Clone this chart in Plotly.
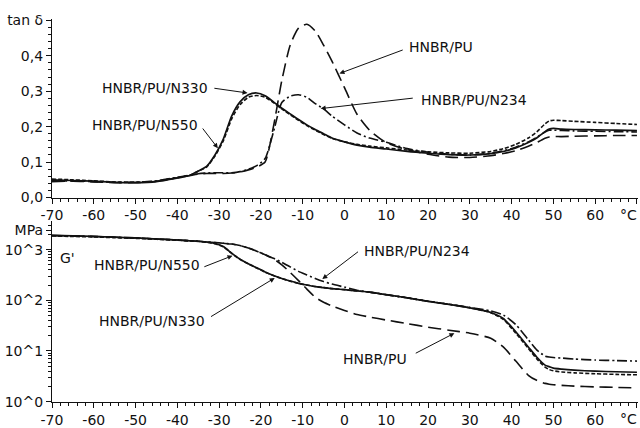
import plotly.graph_objects as go

# Temperature grid (°C)
T = [-70, -65, -60, -55, -50, -45, -40, -37, -35, -33, -31, -29, -27, -25, -23, -21,
     -19, -17, -15, -13, -11, -9, -7, -5, -3, 0, 3, 6, 10, 15, 20, 25, 30, 35, 38,
     41, 44, 46, 48, 49, 50, 52, 55, 60, 65, 70]

# tan delta
tan_PU = [.045, .046, .044, .042, .042, .046, .056, .062, .066, .068, .068, .068, .069, .072,
          .078, .086, .10, .20, .33, .43, .478, .489, .47, .43, .385, .31, .235, .19, .155,
          .135, .122, .114, .113, .118, .124, .132, .145, .155, .167, .171, .172, .172, .173,
          .174, .175, .175]
tan_N234 = [.047, .047, .045, .043, .043, .047, .057, .063, .067, .069, .07, .07, .07, .073,
            .08, .09, .11, .185, .268, .286, .29, .283, .265, .25, .23, .205, .182, .168, .156,
            .138, .128, .122, .12, .125, .132, .142, .157, .17, .185, .19, .19, .189, .188,
            .187, .186, .185]
tan_N330 = [.05, .048, .046, .043, .042, .045, .055, .062, .075, .088, .12, .165, .23, .27,
            .29, .295, .287, .27, .252, .236, .22, .205, .192, .18, .168, .157, .148, .142,
            .137, .13, .125, .121, .12, .124, .13, .14, .155, .168, .186, .193, .195, .193,
            .192, .191, .19, .189]
tan_N550 = [.052, .05, .047, .044, .043, .046, .056, .063, .074, .086, .117, .16, .222, .262,
            .283, .288, .283, .268, .25, .234, .218, .203, .19, .178, .167, .157, .15, .145,
            .14, .134, .129, .126, .125, .13, .138, .15, .168, .185, .208, .216, .218, .217,
            .215, .212, .209, .206]

# Storage modulus G' (MPa)
G_PU = [1905, 1862, 1820, 1758, 1698, 1622, 1549, 1496, 1462, 1413, 1380, 1334, 1288, 1202,
        1072, 933, 794, 661, 501, 355, 245, 166, 115, 91.2, 77.6, 63.1, 52.5, 46.8, 40.7,
        34.7, 29.5, 25.7, 22.4, 17.8, 12.0, 6.31, 3.31, 2.63, 2.29, 2.21, 2.16, 2.09, 2.02,
        1.95, 1.91, 1.86]
G_N234 = [1905, 1862, 1820, 1758, 1698, 1622, 1549, 1496, 1462, 1413, 1380, 1334, 1288, 1202,
          1072, 933, 794, 676, 562, 457, 372, 316, 269, 234, 209, 182, 158, 145, 129, 112,
          95.5, 83.2, 72.4, 61.7, 51.3, 33.1, 16.6, 10.5, 7.94, 7.59, 7.41, 7.24, 6.92, 6.61,
          6.46, 6.31]
G_N330 = [1905, 1862, 1820, 1758, 1698, 1622, 1549, 1496, 1462, 1413, 1318, 1148, 851, 646,
          525, 437, 363, 309, 269, 240, 216, 200, 186, 178, 170, 162, 153, 145, 129, 112,
          95.5, 83.2, 70.8, 57.5, 43.7, 24.0, 12.0, 7.6, 5.25, 4.9, 4.57, 4.37, 4.17, 3.98,
          3.89, 3.8]
G_N550 = [1860, 1820, 1780, 1720, 1670, 1600, 1530, 1480, 1450, 1400, 1300, 1130, 840, 640,
          520, 433, 360, 307, 268, 239, 216, 200, 187, 178, 170, 162, 153, 145, 129, 112, 96,
          83.5, 71, 57, 42, 22.5, 11.2, 7.0, 4.8, 4.3, 4.05, 3.85, 3.7, 3.55, 3.45, 3.38]

x_ticks = [-70, -60, -50, -40, -30, -20, -10, 0, 10, 20, 30, 40, 50, 60, 70]
x_text = ["-70", "-60", "-50", "-40", "-30", "-20", "-10", "0", "10", "20", "30", "40",
          "50", "60", ""]
x_unit = "°C"
tan_ticks = [0, 0.1, 0.2, 0.3, 0.4, 0.5]
tan_text = ["0,0", "0,1", "0,2", "0,3", "0,4", "tan δ"]
g_ticks = [1, 10, 100, 1000, 2400]
g_text = ["10^0", "10^1", "10^2", "10^3", "MPa"]

FONT = "DejaVu Sans"
BLACK = "#111111"

styles = {
    "PU": dict(dash="13px,6px", width=1.6),
    "N234": dict(dash="10px,3px,2px,3px", width=1.6),
    "N330": dict(dash="solid", width=1.7),
    "N550": dict(dash="4px,2px", width=1.6),
}

fig = go.Figure()
for name, tan, G in [("PU", tan_PU, G_PU), ("N234", tan_N234, G_N234),
                     ("N330", tan_N330, G_N330), ("N550", tan_N550, G_N550)]:
    st = styles[name]
    fig.add_trace(go.Scatter(x=T, y=tan, mode="lines", xaxis="x", yaxis="y",
                             line=dict(color=BLACK, width=st["width"], dash=st["dash"],
                                       shape="spline", smoothing=0.6),
                             showlegend=False))
    fig.add_trace(go.Scatter(x=T, y=G, mode="lines", xaxis="x2", yaxis="y2",
                             line=dict(color=BLACK, width=st["width"], dash=st["dash"],
                                       shape="spline", smoothing=0.6),
                             showlegend=False))

axis_common = dict(showline=True, linecolor=BLACK, linewidth=1.2, showgrid=False,
                   zeroline=False, ticks="outside", tickcolor=BLACK, ticklen=5,
                   tickfont=dict(family=FONT, size=14, color=BLACK))

minor_x = dict(ticks="outside", dtick=2, tick0=-70, ticklen=3, tickcolor=BLACK, showgrid=False)
g_minor = [m * d for d in (1, 10, 100) for m in range(2, 10)] + [2000, 3000]

fig.update_layout(
    width=640, height=428,
    margin=dict(l=52, r=2, t=0, b=0),
    paper_bgcolor="white", plot_bgcolor="white",
    xaxis=dict(domain=[0, 1], anchor="y", range=[-70, 70.25], tickvals=x_ticks,
               ticktext=x_text, minor=minor_x, **axis_common),
    yaxis=dict(domain=[0.5374, 0.9696], anchor="x", range=[0, 0.505], tickvals=tan_ticks,
               ticktext=tan_text, minor=dict(ticks="outside", dtick=0.02, ticklen=3,
                                             tickcolor=BLACK, showgrid=False),
               **axis_common),
    xaxis2=dict(domain=[0, 1], anchor="y2", range=[-70, 70.25], tickvals=x_ticks,
                ticktext=x_text, minor=minor_x, **axis_common),
    yaxis2=dict(domain=[0.0444, 0.4813], anchor="x2", type="log", range=[0, 3.57],
                tickvals=g_ticks, ticktext=g_text,
                minor=dict(ticks="outside", tickvals=g_minor, ticklen=3, tickcolor=BLACK,
                           showgrid=False),
                **axis_common),
)

afont = dict(family=FONT, size=14, color=BLACK)

# (text, x_text, y_text, xanchor, tail_x, tail_y, head_x, head_y, subplot)
labels = [
    ("HNBR/PU", 15.0, 0.426, "left", 14.3, 0.418, -1.2, 0.35, 1),
    ("HNBR/PU/N234", 17.9, 0.276, "left", 16.7, 0.281, -5.7, 0.251, 1),
    ("HNBR/PU/N330", -32.3, 0.309, "right", -31.5, 0.309, -23.2, 0.295, 1),
    ("HNBR/PU/N550", -34.6, 0.205, "right", -34.2, 0.199, -30.3, 0.139, 1),
    ("HNBR/PU/N550", -34.2, 2.69, "right", -33.9, 2.65, -26.8, 2.88, 2),
    ("HNBR/PU/N330", -33.0, 1.60, "right", -32.3, 1.66, -16.7, 2.44, 2),
    ("HNBR/PU/N234", 4.3, 2.98, "left", 3.6, 2.98, -5.3, 2.42, 2),
    ("HNBR/PU", 15.5, 0.84, "right", 16.7, 0.94, 26.3, 1.35, 2),
]
ann = []
for text, tx, ty, xa, ax, ay, hx, hy, sp in labels:
    xr = "x" if sp == 1 else "x2"
    yr = "y" if sp == 1 else "y2"
    ann.append(dict(text=text, x=tx, y=ty, xref=xr, yref=yr, xanchor=xa, yanchor="middle",
                    showarrow=False, font=afont))
    ann.append(dict(text="", x=hx, y=hy, xref=xr, yref=yr, ax=ax, ay=ay, axref=xr, ayref=yr,
                    showarrow=True, arrowhead=2, arrowsize=1, arrowwidth=1,
                    arrowcolor=BLACK, standoff=0, startstandoff=0))
ann.append(dict(text="G'", x=-66.2, y=2.84, xref="x2", yref="y2", xanchor="center",
                yanchor="middle", showarrow=False, font=afont))
# unit label at the right end of each temperature axis
for ytop in (207, 418):
    ann.append(dict(text=x_unit, x=1.0, y=1 - ytop / 428, xref="paper", yref="paper",
                    xanchor="right", yanchor="top", borderpad=0, showarrow=False,
                    font=afont))
fig.update_layout(annotations=ann)

fig.write_html("out.html")
